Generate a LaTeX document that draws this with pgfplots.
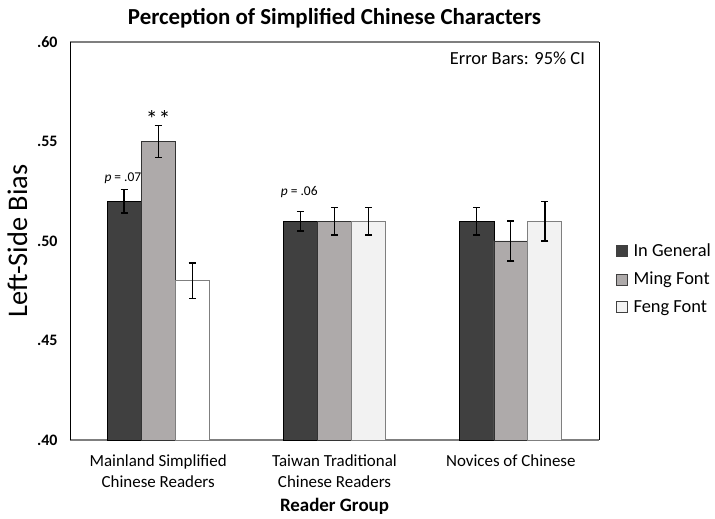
\documentclass[border=0pt]{standalone}
\usepackage{fontspec}
\setmainfont{Carlito}
\usepackage{pgfplots}
\pgfplotsset{compat=1.18}

\definecolor{cdark}{HTML}{404040}
\definecolor{cmid}{HTML}{AEAAAA}
\definecolor{clight}{HTML}{F2F2F2}
\definecolor{cedge}{HTML}{7F7F7F}

\begin{document}
\begin{tikzpicture}
\useasboundingbox (-70bp,-79bp) rectangle (645bp,440bp);
\begin{axis}[
    scale only axis,
    width=529bp, height=398bp,
    ybar,
    bar width=0.193,
    xmin=-0.5, xmax=2.5,
    ymin=0.40, ymax=0.60,
    ytick={0.40,0.45,0.50,0.55,0.60},
    xtick={0,1,2},
    xticklabels={{Mainland Simplified\\Chinese Readers},{Taiwan Traditional\\Chinese Readers},{Novices of Chinese}},
    xticklabel style={align=center, font=\fontsize{17}{21}\selectfont, yshift=-11pt},
    yticklabel style={font=\fontsize{16}{18}\selectfont\bfseries, xshift=-9pt},
    /pgf/number format/.cd, fixed, fixed zerofill, precision=2, skip 0.=true, assume math mode=true,
    /pgfplots/.cd,
    major tick length=0pt,
    separate axis lines,
    x axis line style={draw=cedge, line width=1.6pt},
    y axis line style={draw=black, line width=0.8pt},
    xlabel={\bfseries Reader Group},
    xlabel style={font=\fontsize{19}{22}\selectfont, yshift=-4pt},
    ylabel={Left-Side Bias},
    ylabel style={font=\fontsize{28.5}{32}\selectfont, yshift=3pt},
    title={\bfseries Perception of Simplified Chinese Characters},
    title style={font=\fontsize{23}{27}\selectfont, yshift=4pt},
    legend style={at={(1.2155,0.405)}, anchor=east, draw=none, fill=none, inner sep=0pt,
        font=\fontsize{18.5}{22}\selectfont, row sep=10pt,
        /tikz/every odd column/.append style={column sep=4pt}},
    legend cell align=left,
    legend image code/.code={\draw[#1, draw=black!75, line width=0.5pt] (0pt,-5.5pt) rectangle (11pt,5.5pt);},
    error bars/error bar style={line width=1.3pt, black},
    error bars/error mark options={rotate=90, mark size=3.5pt, line width=1.3pt, black},
]
\addplot[fill=cdark, draw=black, line width=0.6pt, bar shift=-0.193,
    error bars/.cd, y dir=both, y explicit]
coordinates {(0,0.52) +- (0,0.006) (1,0.51) +- (0,0.005) (2,0.51) +- (0,0.007)};
\addplot[fill=cmid, draw=black!80, line width=0.6pt, bar shift=0,
    error bars/.cd, y dir=both, y explicit]
coordinates {(0,0.55) +- (0,0.008) (1,0.51) +- (0,0.007) (2,0.50) +- (0,0.010)};
\addplot[fill=clight, draw=cedge, line width=0.9pt, bar shift=0.193,
    error bars/.cd, y dir=both, y explicit]
coordinates {(1,0.51) +- (0,0.007) (2,0.51) +- (0,0.010)};
\addplot[fill=white, draw=cedge, line width=0.9pt, bar shift=0.193, forget plot,
    error bars/.cd, y dir=both, y explicit]
coordinates {(0,0.48) +- (0,0.009)};
\legend{In General, Ming Font, Feng Font}
\node[font=\fontsize{13.5}{15}\selectfont] at (axis cs:-0.2,0.5317) {\textit{p} = .07};
\node[font=\fontsize{24}{26}\selectfont] at (axis cs:0,0.5615) {*\hspace{1pt}*};
\node[font=\fontsize{13.5}{15}\selectfont] at (axis cs:0.8,0.5245) {\textit{p} = .06};
\node[font=\fontsize{18.5}{21}\selectfont, anchor=north east] at (rel axis cs:0.98,0.985) {Error Bars: 95\% CI};
\end{axis}
\end{tikzpicture}
\end{document}
